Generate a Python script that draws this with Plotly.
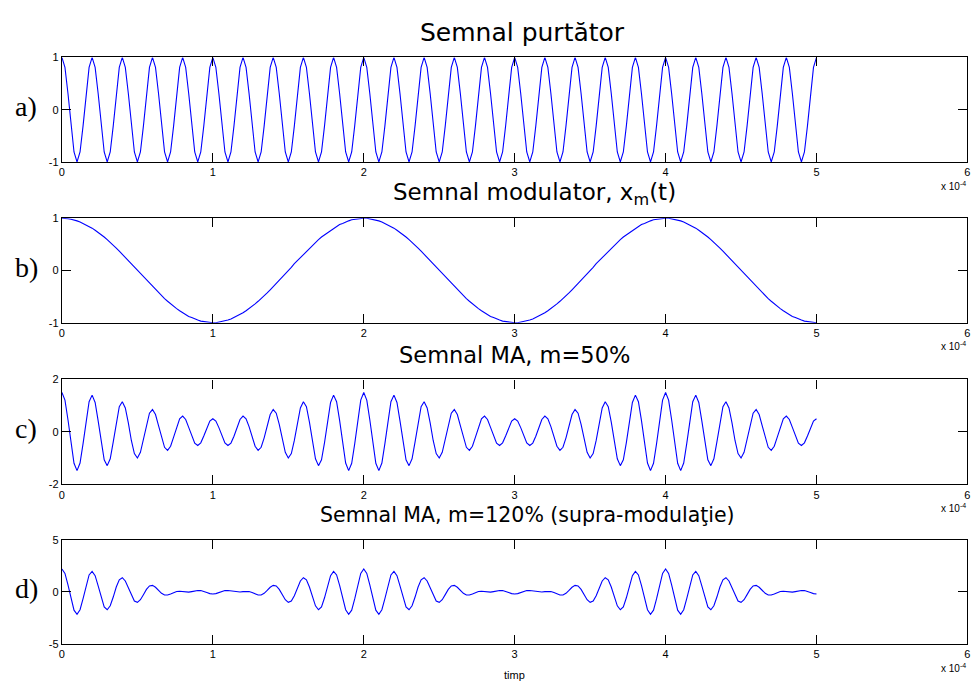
import plotly.graph_objects as go

# time axis, in units of 1e-4 s
t = [
    0.00, 0.02, 0.04, 0.06, 0.08, 0.10, 0.12, 0.14, 0.16, 0.18,
    0.20, 0.22, 0.24, 0.26, 0.28, 0.30, 0.32, 0.34, 0.36, 0.38,
    0.40, 0.42, 0.44, 0.46, 0.48, 0.50, 0.52, 0.54, 0.56, 0.58,
    0.60, 0.62, 0.64, 0.66, 0.68, 0.70, 0.72, 0.74, 0.76, 0.78,
    0.80, 0.82, 0.84, 0.86, 0.88, 0.90, 0.92, 0.94, 0.96, 0.98,
    1.00, 1.02, 1.04, 1.06, 1.08, 1.10, 1.12, 1.14, 1.16, 1.18,
    1.20, 1.22, 1.24, 1.26, 1.28, 1.30, 1.32, 1.34, 1.36, 1.38,
    1.40, 1.42, 1.44, 1.46, 1.48, 1.50, 1.52, 1.54, 1.56, 1.58,
    1.60, 1.62, 1.64, 1.66, 1.68, 1.70, 1.72, 1.74, 1.76, 1.78,
    1.80, 1.82, 1.84, 1.86, 1.88, 1.90, 1.92, 1.94, 1.96, 1.98,
    2.00, 2.02, 2.04, 2.06, 2.08, 2.10, 2.12, 2.14, 2.16, 2.18,
    2.20, 2.22, 2.24, 2.26, 2.28, 2.30, 2.32, 2.34, 2.36, 2.38,
    2.40, 2.42, 2.44, 2.46, 2.48, 2.50, 2.52, 2.54, 2.56, 2.58,
    2.60, 2.62, 2.64, 2.66, 2.68, 2.70, 2.72, 2.74, 2.76, 2.78,
    2.80, 2.82, 2.84, 2.86, 2.88, 2.90, 2.92, 2.94, 2.96, 2.98,
    3.00, 3.02, 3.04, 3.06, 3.08, 3.10, 3.12, 3.14, 3.16, 3.18,
    3.20, 3.22, 3.24, 3.26, 3.28, 3.30, 3.32, 3.34, 3.36, 3.38,
    3.40, 3.42, 3.44, 3.46, 3.48, 3.50, 3.52, 3.54, 3.56, 3.58,
    3.60, 3.62, 3.64, 3.66, 3.68, 3.70, 3.72, 3.74, 3.76, 3.78,
    3.80, 3.82, 3.84, 3.86, 3.88, 3.90, 3.92, 3.94, 3.96, 3.98,
    4.00, 4.02, 4.04, 4.06, 4.08, 4.10, 4.12, 4.14, 4.16, 4.18,
    4.20, 4.22, 4.24, 4.26, 4.28, 4.30, 4.32, 4.34, 4.36, 4.38,
    4.40, 4.42, 4.44, 4.46, 4.48, 4.50, 4.52, 4.54, 4.56, 4.58,
    4.60, 4.62, 4.64, 4.66, 4.68, 4.70, 4.72, 4.74, 4.76, 4.78,
    4.80, 4.82, 4.84, 4.86, 4.88, 4.90, 4.92, 4.94, 4.96, 4.98,
    5.00,
]

# a) carrier samples
carrier = [
    1, 0.81, 0.31, -0.31, -0.81, -1, -0.81, -0.31, 0.31, 0.81,
    1, 0.81, 0.31, -0.31, -0.81, -1, -0.81, -0.31, 0.31, 0.81,
    1, 0.81, 0.31, -0.31, -0.81, -1, -0.81, -0.31, 0.31, 0.81,
    1, 0.81, 0.31, -0.31, -0.81, -1, -0.81, -0.31, 0.31, 0.81,
    1, 0.81, 0.31, -0.31, -0.81, -1, -0.81, -0.31, 0.31, 0.81,
    1, 0.81, 0.31, -0.31, -0.81, -1, -0.81, -0.31, 0.31, 0.81,
    1, 0.81, 0.31, -0.31, -0.81, -1, -0.81, -0.31, 0.31, 0.81,
    1, 0.81, 0.31, -0.31, -0.81, -1, -0.81, -0.31, 0.31, 0.81,
    1, 0.81, 0.31, -0.31, -0.81, -1, -0.81, -0.31, 0.31, 0.81,
    1, 0.81, 0.31, -0.31, -0.81, -1, -0.81, -0.31, 0.31, 0.81,
    1, 0.81, 0.31, -0.31, -0.81, -1, -0.81, -0.31, 0.31, 0.81,
    1, 0.81, 0.31, -0.31, -0.81, -1, -0.81, -0.31, 0.31, 0.81,
    1, 0.81, 0.31, -0.31, -0.81, -1, -0.81, -0.31, 0.31, 0.81,
    1, 0.81, 0.31, -0.31, -0.81, -1, -0.81, -0.31, 0.31, 0.81,
    1, 0.81, 0.31, -0.31, -0.81, -1, -0.81, -0.31, 0.31, 0.81,
    1, 0.81, 0.31, -0.31, -0.81, -1, -0.81, -0.31, 0.31, 0.81,
    1, 0.81, 0.31, -0.31, -0.81, -1, -0.81, -0.31, 0.31, 0.81,
    1, 0.81, 0.31, -0.31, -0.81, -1, -0.81, -0.31, 0.31, 0.81,
    1, 0.81, 0.31, -0.31, -0.81, -1, -0.81, -0.31, 0.31, 0.81,
    1, 0.81, 0.31, -0.31, -0.81, -1, -0.81, -0.31, 0.31, 0.81,
    1, 0.81, 0.31, -0.31, -0.81, -1, -0.81, -0.31, 0.31, 0.81,
    1, 0.81, 0.31, -0.31, -0.81, -1, -0.81, -0.31, 0.31, 0.81,
    1, 0.81, 0.31, -0.31, -0.81, -1, -0.81, -0.31, 0.31, 0.81,
    1, 0.81, 0.31, -0.31, -0.81, -1, -0.81, -0.31, 0.31, 0.81,
    1, 0.81, 0.31, -0.31, -0.81, -1, -0.81, -0.31, 0.31, 0.81,
    1,
]

# b) modulating signal samples
modulator = [
    1.00, 1.00, 0.99, 0.98, 0.97, 0.95, 0.93, 0.90, 0.88, 0.84,
    0.81, 0.77, 0.73, 0.68, 0.64, 0.59, 0.54, 0.48, 0.43, 0.37,
    0.31, 0.25, 0.19, 0.13, 0.06, 0.00, -0.06, -0.13, -0.19, -0.25,
    -0.31, -0.37, -0.43, -0.48, -0.54, -0.59, -0.64, -0.68, -0.73, -0.77,
    -0.81, -0.84, -0.88, -0.90, -0.93, -0.95, -0.97, -0.98, -0.99, -1.00,
    -1.00, -1.00, -0.99, -0.98, -0.97, -0.95, -0.93, -0.90, -0.88, -0.84,
    -0.81, -0.77, -0.73, -0.68, -0.64, -0.59, -0.54, -0.48, -0.43, -0.37,
    -0.31, -0.25, -0.19, -0.13, -0.06, 0.00, 0.06, 0.13, 0.19, 0.25,
    0.31, 0.37, 0.43, 0.48, 0.54, 0.59, 0.64, 0.68, 0.73, 0.77,
    0.81, 0.84, 0.88, 0.90, 0.93, 0.95, 0.97, 0.98, 0.99, 1.00,
    1.00, 1.00, 0.99, 0.98, 0.97, 0.95, 0.93, 0.90, 0.88, 0.84,
    0.81, 0.77, 0.73, 0.68, 0.64, 0.59, 0.54, 0.48, 0.43, 0.37,
    0.31, 0.25, 0.19, 0.13, 0.06, 0.00, -0.06, -0.13, -0.19, -0.25,
    -0.31, -0.37, -0.43, -0.48, -0.54, -0.59, -0.64, -0.68, -0.73, -0.77,
    -0.81, -0.84, -0.88, -0.90, -0.93, -0.95, -0.97, -0.98, -0.99, -1.00,
    -1.00, -1.00, -0.99, -0.98, -0.97, -0.95, -0.93, -0.90, -0.88, -0.84,
    -0.81, -0.77, -0.73, -0.68, -0.64, -0.59, -0.54, -0.48, -0.43, -0.37,
    -0.31, -0.25, -0.19, -0.13, -0.06, 0.00, 0.06, 0.13, 0.19, 0.25,
    0.31, 0.37, 0.43, 0.48, 0.54, 0.59, 0.64, 0.68, 0.73, 0.77,
    0.81, 0.84, 0.88, 0.90, 0.93, 0.95, 0.97, 0.98, 0.99, 1.00,
    1.00, 1.00, 0.99, 0.98, 0.97, 0.95, 0.93, 0.90, 0.88, 0.84,
    0.81, 0.77, 0.73, 0.68, 0.64, 0.59, 0.54, 0.48, 0.43, 0.37,
    0.31, 0.25, 0.19, 0.13, 0.06, 0.00, -0.06, -0.13, -0.19, -0.25,
    -0.31, -0.37, -0.43, -0.48, -0.54, -0.59, -0.64, -0.68, -0.73, -0.77,
    -0.81, -0.84, -0.88, -0.90, -0.93, -0.95, -0.97, -0.98, -0.99, -1.00,
    -1.00,
]

# c) AM signal, m = 50 %
am_50 = [
    1.50, 1.21, 0.46, -0.46, -1.20, -1.48, -1.19, -0.45, 0.44, 1.15,
    1.40, 1.12, 0.42, -0.41, -1.07, -1.29, -1.03, -0.38, 0.37, 0.96,
    1.15, 0.91, 0.34, -0.33, -0.83, -1.00, -0.78, -0.29, 0.28, 0.71,
    0.85, 0.66, 0.24, -0.23, -0.59, -0.71, -0.55, -0.20, 0.20, 0.50,
    0.60, 0.47, 0.17, -0.17, -0.43, -0.52, -0.42, -0.16, 0.16, 0.41,
    0.50, 0.41, 0.16, -0.16, -0.42, -0.52, -0.43, -0.17, 0.17, 0.47,
    0.60, 0.50, 0.20, -0.20, -0.55, -0.71, -0.59, -0.23, 0.24, 0.66,
    0.85, 0.71, 0.28, -0.29, -0.78, -1.00, -0.83, -0.33, 0.34, 0.91,
    1.15, 0.96, 0.37, -0.38, -1.03, -1.29, -1.07, -0.41, 0.42, 1.12,
    1.40, 1.15, 0.44, -0.45, -1.19, -1.48, -1.20, -0.46, 0.46, 1.21,
    1.50, 1.21, 0.46, -0.46, -1.20, -1.48, -1.19, -0.45, 0.44, 1.15,
    1.40, 1.12, 0.42, -0.41, -1.07, -1.29, -1.03, -0.38, 0.37, 0.96,
    1.15, 0.91, 0.34, -0.33, -0.83, -1.00, -0.78, -0.29, 0.28, 0.71,
    0.85, 0.66, 0.24, -0.23, -0.59, -0.71, -0.55, -0.20, 0.20, 0.50,
    0.60, 0.47, 0.17, -0.17, -0.43, -0.52, -0.42, -0.16, 0.16, 0.41,
    0.50, 0.41, 0.16, -0.16, -0.42, -0.52, -0.43, -0.17, 0.17, 0.47,
    0.60, 0.50, 0.20, -0.20, -0.55, -0.71, -0.59, -0.23, 0.24, 0.66,
    0.85, 0.71, 0.28, -0.29, -0.78, -1.00, -0.83, -0.33, 0.34, 0.91,
    1.15, 0.96, 0.37, -0.38, -1.03, -1.29, -1.07, -0.41, 0.42, 1.12,
    1.40, 1.15, 0.44, -0.45, -1.19, -1.48, -1.20, -0.46, 0.46, 1.21,
    1.50, 1.21, 0.46, -0.46, -1.20, -1.48, -1.19, -0.45, 0.44, 1.15,
    1.40, 1.12, 0.42, -0.41, -1.07, -1.29, -1.03, -0.38, 0.37, 0.96,
    1.15, 0.91, 0.34, -0.33, -0.83, -1.00, -0.78, -0.29, 0.28, 0.71,
    0.85, 0.66, 0.24, -0.23, -0.59, -0.71, -0.55, -0.20, 0.20, 0.50,
    0.60, 0.47, 0.17, -0.17, -0.43, -0.52, -0.42, -0.16, 0.16, 0.41,
    0.50,
]

# d) AM signal, m = 120 % (over-modulation)
am_120 = [
    2.20, 1.78, 0.68, -0.67, -1.75, -2.14, -1.71, -0.64, 0.63, 1.63,
    1.97, 1.56, 0.58, -0.56, -1.43, -1.71, -1.33, -0.49, 0.47, 1.17,
    1.37, 1.05, 0.38, -0.36, -0.87, -1.00, -0.75, -0.26, 0.24, 0.57,
    0.63, 0.45, 0.15, -0.13, -0.29, -0.29, -0.19, -0.06, 0.04, 0.06,
    0.03, -0.01, -0.02, 0.03, 0.09, 0.14, 0.13, 0.06, -0.06, -0.16,
    -0.20, -0.16, -0.06, 0.06, 0.13, 0.14, 0.09, 0.03, -0.02, -0.01,
    0.03, 0.06, 0.04, -0.06, -0.19, -0.29, -0.29, -0.13, 0.15, 0.45,
    0.63, 0.57, 0.24, -0.26, -0.75, -1.00, -0.87, -0.36, 0.38, 1.05,
    1.37, 1.17, 0.47, -0.49, -1.33, -1.71, -1.43, -0.56, 0.58, 1.56,
    1.97, 1.63, 0.63, -0.64, -1.71, -2.14, -1.75, -0.67, 0.68, 1.78,
    2.20, 1.78, 0.68, -0.67, -1.75, -2.14, -1.71, -0.64, 0.63, 1.63,
    1.97, 1.56, 0.58, -0.56, -1.43, -1.71, -1.33, -0.49, 0.47, 1.17,
    1.37, 1.05, 0.38, -0.36, -0.87, -1.00, -0.75, -0.26, 0.24, 0.57,
    0.63, 0.45, 0.15, -0.13, -0.29, -0.29, -0.19, -0.06, 0.04, 0.06,
    0.03, -0.01, -0.02, 0.03, 0.09, 0.14, 0.13, 0.06, -0.06, -0.16,
    -0.20, -0.16, -0.06, 0.06, 0.13, 0.14, 0.09, 0.03, -0.02, -0.01,
    0.03, 0.06, 0.04, -0.06, -0.19, -0.29, -0.29, -0.13, 0.15, 0.45,
    0.63, 0.57, 0.24, -0.26, -0.75, -1.00, -0.87, -0.36, 0.38, 1.05,
    1.37, 1.17, 0.47, -0.49, -1.33, -1.71, -1.43, -0.56, 0.58, 1.56,
    1.97, 1.63, 0.63, -0.64, -1.71, -2.14, -1.75, -0.67, 0.68, 1.78,
    2.20, 1.78, 0.68, -0.67, -1.75, -2.14, -1.71, -0.64, 0.63, 1.63,
    1.97, 1.56, 0.58, -0.56, -1.43, -1.71, -1.33, -0.49, 0.47, 1.17,
    1.37, 1.05, 0.38, -0.36, -0.87, -1.00, -0.75, -0.26, 0.24, 0.57,
    0.63, 0.45, 0.15, -0.13, -0.29, -0.29, -0.19, -0.06, 0.04, 0.06,
    0.03, -0.01, -0.02, 0.03, 0.09, 0.14, 0.13, 0.06, -0.06, -0.16,
    -0.20,
]

titles = [
    "Semnal purtător",
    "Semnal modulator, x<sub>m</sub>(t)",
    "Semnal MA, m=50%",
    "Semnal MA, m=120% (supra-modulaţie)",
]
panel_labels = ["a)", "b)", "c)", "d)"]
y_ticks = [[-1, 0, 1], [-1, 0, 1], [-2, 0, 2], [-5, 0, 5]]
x_ticks = [0, 1, 2, 3, 4, 5, 6]
x_label = "timp"
x_exponent = "x 10<sup>-4</sup>"
series = [carrier, modulator, am_50, am_120]

W, H = 974, 691
# panel geometry in pixels (top, bottom)
panel_px = [(52.3, 158.7), (216.0, 322.3), (380.0, 486.7), (543.3, 649.3)]
x_left_px, x_right_px = 59.3, 970.4
title_cx = [523, 535, 515, 528]
title_size = [25, 23, 22.5, 20.5]


def px(x):
    return x / W


def py(y):
    return 1 - y / H


fig = go.Figure()
layout = dict(
    width=W, height=H, autosize=False,
    margin=dict(l=0, r=0, t=0, b=0),
    paper_bgcolor="white", plot_bgcolor="white",
    showlegend=False,
    font=dict(family="Liberation Sans, Arial, sans-serif", size=11, color="black"),
)
annotations = []
for i, ys in enumerate(series):
    n = "" if i == 0 else str(i + 1)
    fig.add_trace(go.Scatter(
        x=t, y=ys, mode="lines",
        line=dict(color="#0000ff", width=1.1),
        xaxis="x" + n, yaxis="y" + n, hoverinfo="skip",
    ))
    top, bot = panel_px[i]
    yt = y_ticks[i]
    axis_common = dict(
        showline=True, linecolor="black", linewidth=1.2, mirror="ticks",
        ticks="inside", ticklen=9, tickwidth=1, tickcolor="black",
        showgrid=False, zeroline=False,
        tickfont=dict(family="Liberation Sans, Arial, sans-serif", size=11, color="black"),
    )
    layout["xaxis" + n] = dict(
        domain=[px(x_left_px), px(x_right_px)], range=[0, 6],
        tickvals=x_ticks, ticktext=[str(v) for v in x_ticks],
        anchor="y" + n, **axis_common,
    )
    layout["yaxis" + n] = dict(
        domain=[py(bot), py(top)], range=[yt[0], yt[-1]],
        tickvals=yt, ticktext=[str(v) for v in yt],
        anchor="x" + n, **axis_common,
    )
    annotations.append(dict(
        text=titles[i], xref="paper", yref="paper",
        x=px(title_cx[i]), y=py(top - 25), xanchor="center", yanchor="middle",
        showarrow=False,
        font=dict(family="DejaVu Sans", size=title_size[i], color="black"),
    ))
    annotations.append(dict(
        text=panel_labels[i], xref="paper", yref="paper",
        x=px(23.5), y=py((top + bot) / 2 - 3), xanchor="center", yanchor="middle",
        showarrow=False,
        font=dict(family="Liberation Serif, Times New Roman, serif", size=28, color="black"),
    ))
    annotations.append(dict(
        text=x_exponent, xref="paper", yref="paper",
        x=px(971), y=py(bot + 24), xanchor="right", yanchor="middle",
        showarrow=False,
        font=dict(family="Liberation Sans, Arial, sans-serif", size=10, color="black"),
    ))

annotations.append(dict(
    text=x_label, xref="paper", yref="paper",
    x=px(515), y=py(681), xanchor="center", yanchor="middle", showarrow=False,
    font=dict(family="Liberation Sans, Arial, sans-serif", size=11, color="black"),
))
layout["annotations"] = annotations
fig.update_layout(**layout)

fig.write_html("out.html", config={"displayModeBar": False},
               post_script="document.body.style.margin='0';")
